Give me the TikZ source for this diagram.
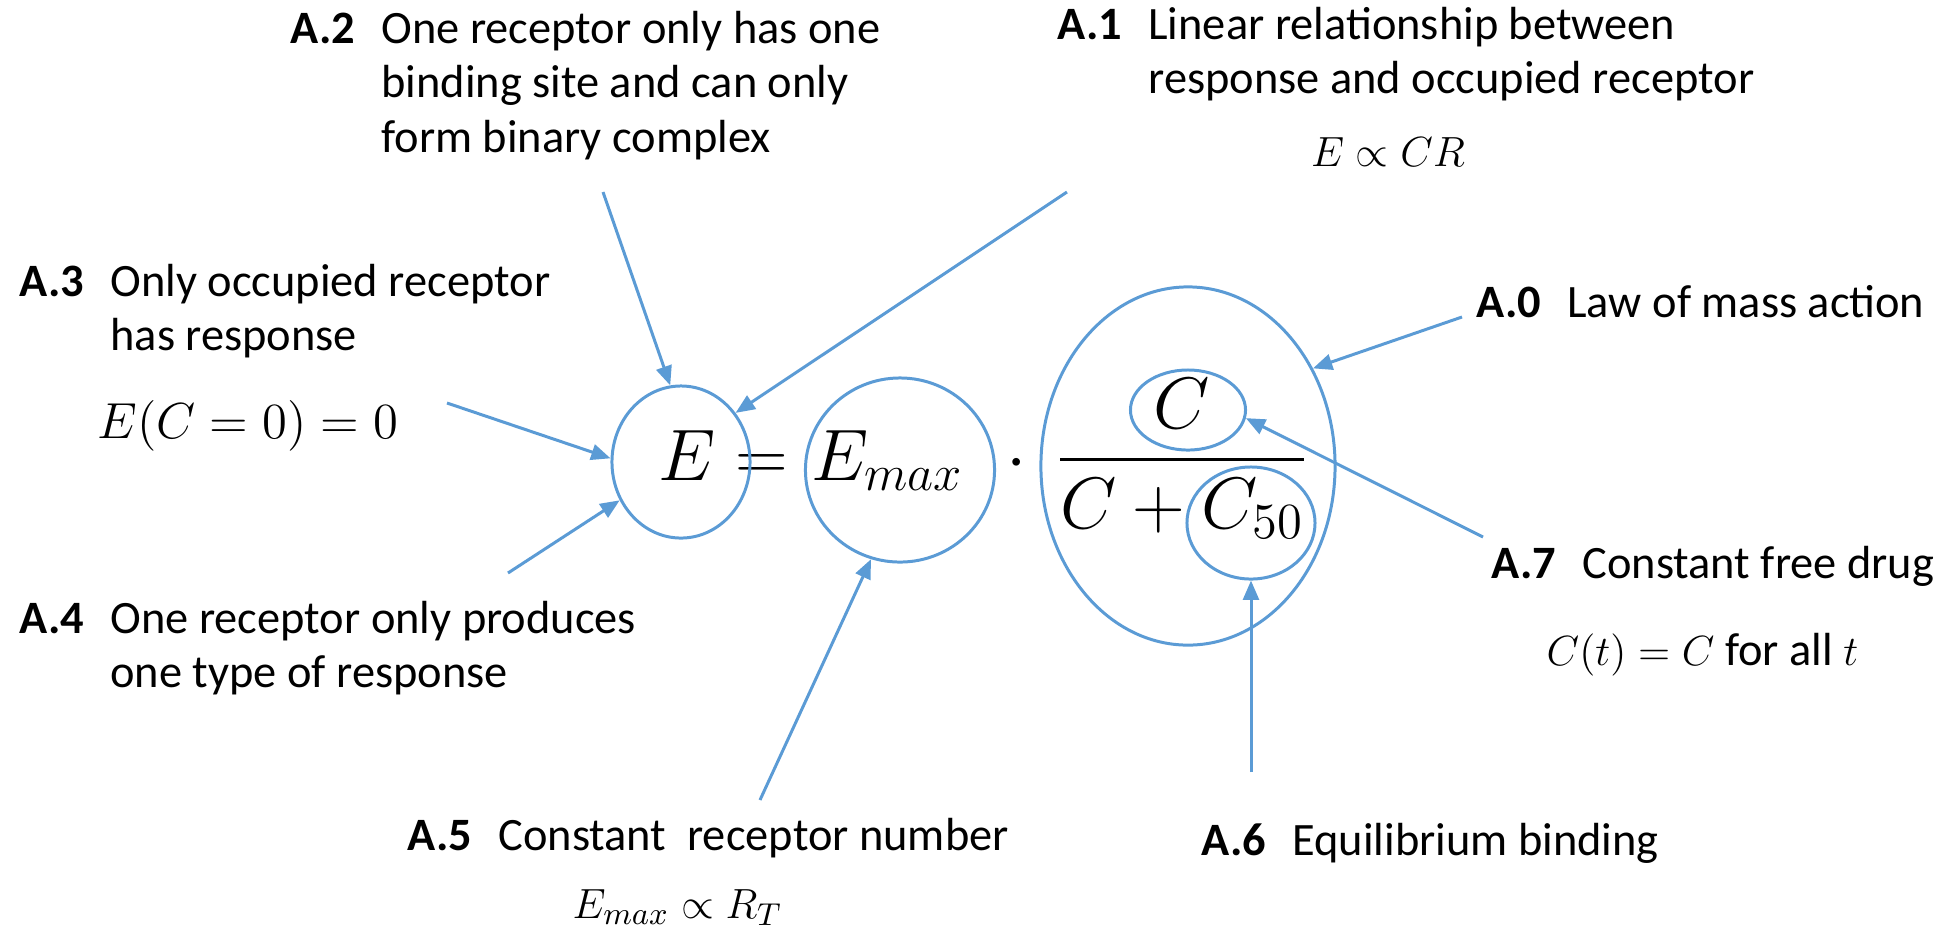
\documentclass[tikz,border=0pt]{standalone}
\usepackage[no-math]{fontspec}
\setmainfont{Carlito}
\usepackage{amsmath}
\usetikzlibrary{arrows.meta,shapes.geometric}
\definecolor{linkblue}{HTML}{5B9BD5}

\begin{document}
\begin{tikzpicture}[
    x=0.01cm, y=-0.01cm,
    >={Triangle[length=5.5pt,width=4.5pt]},
    note/.style={
        anchor=base west,
        inner sep=0pt,
        font=\fontsize{13.2}{15.5}\selectfont
    },
    formula/.style={
        anchor=base west,
        inner sep=0pt,
        font=\fontsize{13.2}{15.5}\selectfont
    },
    bigmath/.style={
        anchor=base,
        inner sep=0pt,
        font=\fontsize{21}{25}\selectfont
    },
    ring/.style={
        draw=linkblue,
        line width=0.85pt,
        ellipse,
        inner sep=0pt
    },
    link/.style={->, draw=linkblue, line width=0.85pt}
]
    \useasboundingbox (0,0) rectangle (1947,932);

    % Equation
    \node[bigmath] (eqE) at (687,480) {$E$};
    \node[bigmath] (eqeq) at (762,480) {$=$};
    \node[bigmath, anchor=base west] (eqEmax) at (811,480) {$E_{max}$};
    \node[bigmath] (eqdot) at (1017,480) {$\cdot$};
    \node[bigmath] (eqfrac) at (1182,478) {$\displaystyle\frac{C}{C+C_{50}}$};

    % Rings
    \node[ring, minimum width=1.38cm, minimum height=1.52cm] (cE) at (681,462) {};
    \node[ring, minimum width=1.89cm, minimum height=1.84cm] (cEmax) at (900,470) {};
    \node[ring, minimum width=2.94cm, minimum height=3.58cm] (cFrac) at (1188,466) {};
    \node[ring, minimum width=1.15cm, minimum height=0.80cm] (cC) at (1188,410) {};
    \node[ring, minimum width=1.28cm, minimum height=1.12cm] (cCfifty) at (1251,523) {};

    % Assumptions
    \node[note] (a0) at (1476,317) {\textbf{A.0}\hspace{7.5pt}Law of mass action};
    \node[note] (a1) at (1057,39) {\textbf{A.1}\hspace{7.5pt}\begin{tabular}[t]{@{}l@{}}Linear relationship between\\response and occupied receptor\end{tabular}};
    \node[formula, anchor=base] (a1f) at (1388,166) {$E \propto CR$};
    \node[note] (a2) at (290,43) {\textbf{A.2}\hspace{7.5pt}\begin{tabular}[t]{@{}l@{}}One receptor only has one\\binding site and can only\\form binary complex\end{tabular}};
    \node[note] (a3) at (19,296) {\textbf{A.3}\hspace{7.5pt}\begin{tabular}[t]{@{}l@{}}Only occupied receptor\\has response\end{tabular}};
    \node[formula, font=\fontsize{14.6}{17}\selectfont] (a3f) at (97,438) {$E(C=0)=0$};
    \node[note] (a4) at (19,633) {\textbf{A.4}\hspace{7.5pt}\begin{tabular}[t]{@{}l@{}}One receptor only produces\\one type of response\end{tabular}};
    \node[note] (a5) at (407,850) {\textbf{A.5}\hspace{7.5pt}Constant\ \ receptor number};
    \node[formula] (a5f) at (572,918) {$E_{max} \propto R_T$};
    \node[note] (a6) at (1201,855) {\textbf{A.6}\hspace{7.5pt}Equilibrium binding};
    \node[note] (a7) at (1491,578) {\textbf{A.7}\hspace{7.5pt}Constant free drug};
    \node[formula] (a7f) at (1546,665) {$C(t)=C$ for all $t$};

    % Arrow tails
    \coordinate (a0s) at (1462,317);
    \coordinate (a1s) at (1067,192);
    \coordinate (a2s) at (603,192);
    \coordinate (a3s) at (447,403);
    \coordinate (a4s) at (508,573);
    \coordinate (a5s) at (760,800);
    \coordinate (a6s) at (1251,772);
    \coordinate (a7s) at (1483,537);

    % Arrows
    \draw[link] (a0s) -- (cFrac.38);
    \draw[link] (a1s) -- (cE.42);
    \draw[link] (a2s) -- (cE.98);
    \draw[link] (a3s) -- (cE.177);
    \draw[link] (a4s) -- (cE.212);
    \draw[link] (a5s) -- (cEmax.252);
    \draw[link] (a6s) -- (cCfifty.270);
    \draw[link] (a7s) -- (cC.-8);

\end{tikzpicture}
\end{document}
